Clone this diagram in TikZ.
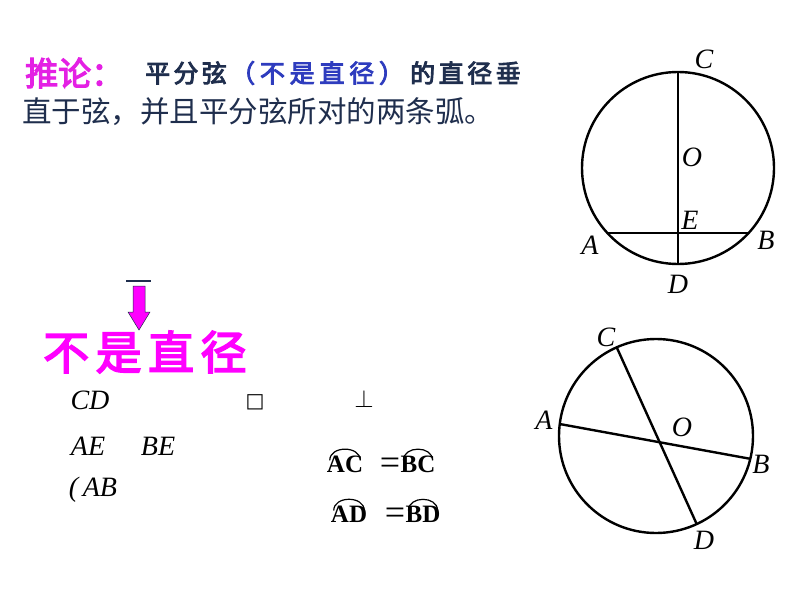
\documentclass[tikz,border=0pt]{standalone}
\usepackage{fontspec}
\setmainfont{Liberation Serif}
\newfontfamily\cjk{Noto Sans CJK SC}
\newfontfamily\cjkbf[FakeBold=3.5]{Noto Sans CJK SC}
\newfontfamily\symf{DejaVu Sans}
\usetikzlibrary{calc}
\definecolor{navy}{RGB}{31,46,77}
\definecolor{pinkm}{RGB}{228,32,228}
\definecolor{brightm}{RGB}{255,0,255}
\definecolor{blueb}{RGB}{46,60,190}

\begin{document}
\begin{tikzpicture}[x=1pt,y=-1pt,
   geo/.style={line width=2.4pt,black},
   lab/.style={font=\fontsize{28}{28}\selectfont\itshape,inner sep=0pt},
   arcpair/.style={font=\fontsize{25}{25}\selectfont\bfseries,inner sep=0pt},
   eqsign/.style={font=\fontsize{36}{36}\selectfont,inner sep=0pt}]
   \useasboundingbox[fill=white] (0,0) rectangle (794,596);
   % heading, first line
   \node[anchor=west,inner sep=0pt,text=pinkm,font=\cjkbf\fontsize{33}{33}\selectfont] (tuilun) at (25,73) {推论：};
   \node[anchor=west,inner sep=0pt,text=navy,font=\cjkbf\fontsize{25}{25}\selectfont\addfontfeature{LetterSpace=13}] (pingfen) at (145,73) {平分弦};
   \node[anchor=west,inner sep=0pt,text=blueb,font=\cjkbf\fontsize{25}{25}\selectfont\addfontfeature{LetterSpace=19}] (bushi) at (230,73) {（不是直径）};
   \node[anchor=west,inner sep=0pt,text=navy,font=\cjkbf\fontsize{25}{25}\selectfont\addfontfeature{LetterSpace=14}] (dezhi) at (410,73) {的直径垂};
   % second line
   \node[anchor=west,inner sep=0pt,text=navy,font=\cjk\fontsize{29.5}{29.5}\selectfont] (line2) at (22,112) {直于弦，并且平分弦所对的两条弧。};
   % down arrow
   \draw[navy,line width=2pt] (126,281) -- (151,281);
   \draw[navy,line width=0.5pt,fill=brightm] (133,286) -- (145,286) -- (145,312) -- (150,312) -- (139,330) -- (128,312) -- (133,312) -- cycle;
   \node[anchor=west,inner sep=0pt,text=brightm,font=\cjkbf\fontsize{46}{46}\selectfont\addfontfeature{LetterSpace=14}] (bsz) at (43,352) {不是直径};
   % statements
   \node[lab] (cd) at (90,400) {CD};
   \node[inner sep=0pt,font=\symf\fontsize{20}{20}\selectfont] (box) at (255,402) {□};
   \node[inner sep=0pt,font=\fontsize{26}{26}\selectfont] (perp) at (364,399) {$\perp$};
   \node[lab] (ae) at (88,446) {AE};
   \node[lab] (be) at (158,446) {BE};
   \node[lab] (ab) at (93,490) {(\,AB};
   % arc equalities
   \node[arcpair] (ac) at (345,464) {AC};
   \node[eqsign] (eqa) at (390,466) {=};
   \node[arcpair] (bc) at (418,464) {BC};
   \node[arcpair] (ad) at (349,514) {AD};
   \node[eqsign] (eqb) at (395,516) {=};
   \node[arcpair] (bd) at (423,514) {BD};
   \foreach \w in {ac,bc,ad,bd}
   \draw[line width=1.2pt] ([xshift=3pt,yshift=-5pt]\w.north west) .. controls +(0,-15) and +(0,-15) .. ([xshift=-3pt,yshift=-5pt]\w.north east);
   % top circle, chord AB bisected by diameter CD
   \def\ra{96} % radius top circle
   \coordinate (O1) at (678,168);
   \draw[geo] (O1) circle (\ra);
   \coordinate (C1) at ($(O1)+(270:\ra)$);
   \coordinate (D1) at ($(O1)+(90:\ra)$);
   \coordinate (A1) at ($(O1)+(137.2:\ra)$);
   \coordinate (B1) at ($(O1)+(42.8:\ra)$);
   \draw[geo] (C1) -- (D1);
   \draw[geo] (A1) -- (B1);
   \node[lab] (lC1) at (704,59) {C};
   \node[lab] (lO1) at (692,157) {O};
   \node[lab] (lE1) at (690,220) {E};
   \node[lab] (lA1) at (590,245) {A};
   \node[lab] (lB1) at (766,240) {B};
   \node[lab] (lD1) at (678,284) {D};
   % bottom circle, two crossing chords
   \def\rb{97} % radius bottom circle
   \coordinate (O2) at (656,436);
   \draw[geo] (O2) circle (\rb);
   \coordinate (C2) at ($(O2)+(246.1:\rb)$);
   \coordinate (D2) at ($(O2)+(65.2:\rb)$);
   \coordinate (A2) at ($(O2)+(187.1:\rb)$);
   \coordinate (B2) at ($(O2)+(13.6:\rb)$);
   \draw[geo] (C2) -- (D2);
   \draw[geo] (A2) -- (B2);
   \node[lab] (lC2) at (606,337) {C};
   \node[lab] (lA2) at (544,420) {A};
   \node[lab] (lO2) at (682,427) {O};
   \node[lab] (lB2) at (761,464) {B};
   \node[lab] (lD2) at (704,540) {D};
\end{tikzpicture}
\end{document}
